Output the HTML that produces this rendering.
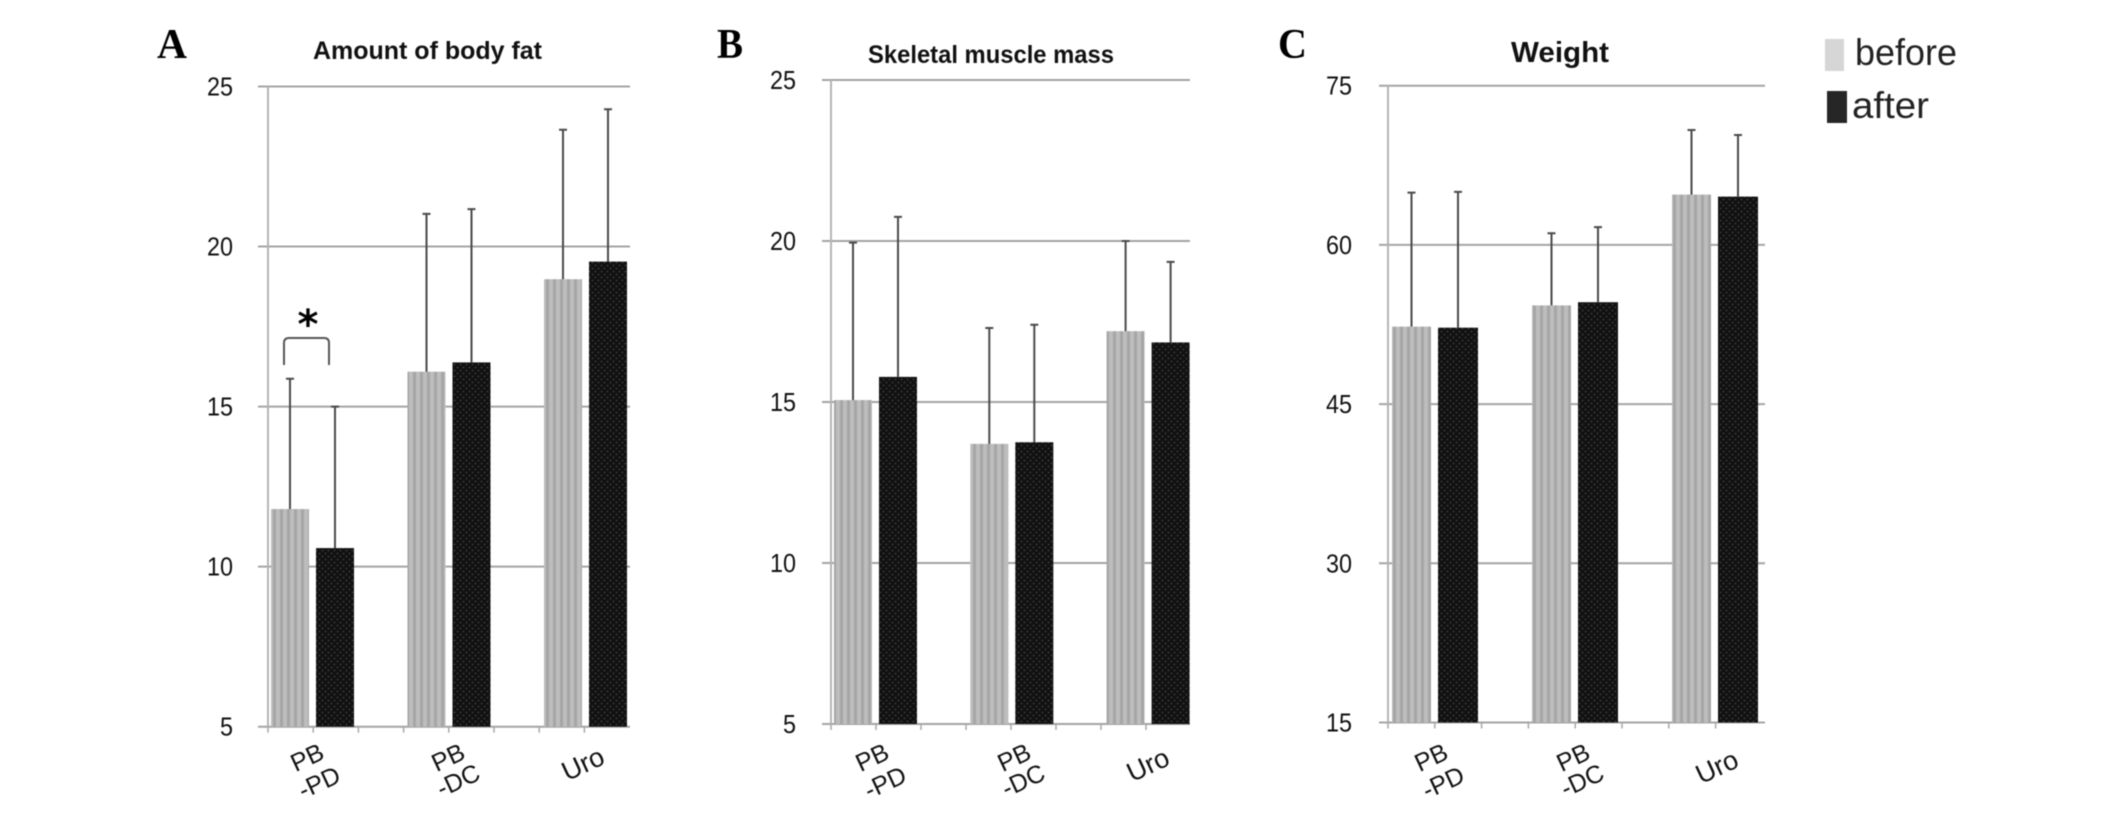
<!DOCTYPE html>
<html lang="en">
<head>
<meta charset="utf-8">
<title>Body composition before and after</title>
<style>
html,body{margin:0;padding:0;background:#fff;width:2126px;height:813px;overflow:hidden}
svg{display:block;filter:blur(0.55px)}
text{font-family:"Liberation Sans",sans-serif;fill:#111}
</style>
</head>
<body>
<svg id="figure" xmlns="http://www.w3.org/2000/svg" width="2126" height="813" viewBox="0 0 2126 813">
  <defs>
    <pattern id="stripes" patternUnits="userSpaceOnUse" width="7" height="7">
      <rect width="7" height="7" fill="#bdbdbd"/>
      <rect x="0" width="3" height="7" fill="#a6a6a6"/>
    </pattern>
    <pattern id="dots" patternUnits="userSpaceOnUse" width="6" height="6">
      <rect width="6" height="6" fill="#111"/>
      <circle cx="1.5" cy="1.5" r="0.9" fill="#404040"/>
      <circle cx="4.5" cy="4.5" r="0.9" fill="#404040"/>
    </pattern>
  </defs>
  <g id="panels"></g>

  <text x="157" y="58" textLength="30" lengthAdjust="spacingAndGlyphs" style="font-family:'Liberation Serif',serif;font-weight:bold;font-size:42px;fill:#000">A</text>
  <text x="717" y="58" textLength="26" lengthAdjust="spacingAndGlyphs" style="font-family:'Liberation Serif',serif;font-weight:bold;font-size:42px;fill:#000">B</text>
  <text x="1278" y="58" textLength="29" lengthAdjust="spacingAndGlyphs" style="font-family:'Liberation Serif',serif;font-weight:bold;font-size:42px;fill:#000">C</text>

  <text x="313" y="59" textLength="229" lengthAdjust="spacingAndGlyphs" style="font-weight:bold;font-size:25px">Amount of body fat</text>
  <text x="868" y="63" textLength="246" lengthAdjust="spacingAndGlyphs" style="font-weight:bold;font-size:25px">Skeletal muscle mass</text>
  <text x="1511" y="62" textLength="98" lengthAdjust="spacingAndGlyphs" style="font-weight:bold;font-size:29px">Weight</text>

  <g>
    <path d="M284 365 L284 343 Q284 338 289 338 L324 338 Q329 338 329 343 L329 365" fill="none" stroke="#555" stroke-width="2"/>
    <text x="308" y="338" text-anchor="middle" style="font-family:'DejaVu Sans',sans-serif;font-weight:bold;font-size:40px;fill:#000">*</text>
  </g>

  <g>
    <g>
      <rect x="1825" y="39" width="19" height="32" fill="#d6d6d6"/>
      <text x="1855" y="65" textLength="102" lengthAdjust="spacingAndGlyphs" style="font-size:37px;fill:#222">before</text>
    </g>
    <g>
      <rect x="1827" y="91" width="20" height="32" fill="#262626"/>
      <text x="1852" y="118" textLength="77" lengthAdjust="spacingAndGlyphs" style="font-size:37px;fill:#222">after</text>
    </g>
  </g>
</svg>
<script>
// Chart data
const categories = [["PB", "-PD"], ["PB", "-DC"], ["Uro"]];

const ticksFat = [5, 10, 15, 20, 25];
const fatBefore = [11.8, 16.09, 18.98];
const fatAfter = [10.58, 16.38, 19.53];
const fatBeforeErrorTop = [15.87, 21.02, 23.65];
const fatAfterErrorTop = [15.0, 21.17, 24.29];

const ticksMuscle = [5, 10, 15, 20, 25];
const muscleBefore = [15.06, 13.7, 17.2];
const muscleAfter = [15.78, 13.75, 16.85];
const muscleBeforeErrorTop = [19.95, 17.3, 20.0];
const muscleAfterErrorTop = [20.75, 17.4, 19.35];

const ticksWeight = [15, 30, 45, 60, 75];
const weightBefore = [52.3, 54.3, 64.74];
const weightAfter = [52.2, 54.6, 64.55];
const weightBeforeErrorTop = [64.93, 61.1, 70.83];
const weightAfterErrorTop = [65.0, 61.67, 70.36];

// Layout of each panel
const panelLayouts = [
  {key: "fat", ticks: ticksFat, before: fatBefore, after: fatAfter, beforeErr: fatBeforeErrorTop, afterErr: fatAfterErrorTop,
   axisX: 268, top: 86.5, bottom: 726.7, gridL: 258, gridR: 630, minor: 45.2, step: 136.5, bOff: 3, aOff: 48, bW: 38, aW: 38, labelRight: 233,
   labelSpots: [[[307, 757], [319, 782]], [[448, 757], [458, 780]], [[583, 764]]]},
  {key: "muscle", ticks: ticksMuscle, before: muscleBefore, after: muscleAfter, beforeErr: muscleBeforeErrorTop, afterErr: muscleAfterErrorTop,
   axisX: 831, top: 80, bottom: 724, gridL: 822, gridR: 1190, minor: 45, step: 136.3, bOff: 3, aOff: 48, bW: 38, aW: 38, labelRight: 796,
   labelSpots: [[[872, 757], [885, 782]], [[1014, 757], [1023, 780]], [[1148, 765]]]},
  {key: "weight", ticks: ticksWeight, before: weightBefore, after: weightAfter, beforeErr: weightBeforeErrorTop, afterErr: weightAfterErrorTop,
   axisX: 1388, top: 85.7, bottom: 722.5, gridL: 1379, gridR: 1765, minor: 46.8, step: 140, bOff: 4, aOff: 50, bW: 39, aW: 40, labelRight: 1352,
   labelSpots: [[[1431, 757], [1443, 782]], [[1573, 757], [1582, 780]], [[1717, 767]]]}
];

const SVG_NS = "http://www.w3.org/2000/svg";
const root = document.getElementById("panels");

function make(tag, attrs, parent, style) {
  const node = document.createElementNS(SVG_NS, tag);
  for (const k in attrs) node.setAttribute(k, attrs[k]);
  if (style) node.setAttribute("style", style);
  parent.appendChild(node);
  return node;
}

panelLayouts.forEach(function (p) {
  const yMin = p.ticks[0];
  const yMax = p.ticks[p.ticks.length - 1];
  const yScale = function (v) { return p.bottom - (v - yMin) / (yMax - yMin) * (p.bottom - p.top); };
  const xBefore = function (i) { return p.axisX + p.bOff + i * p.step; };
  const xAfter = function (i) { return p.axisX + p.aOff + i * p.step; };

  const g = make("g", {}, root);
  
  

  // Gridlines and y tick labels
  p.ticks.forEach(function (t) {
    const y = yScale(t);
    const line = make("line", {x1: p.gridL, x2: p.gridR, y1: y, y2: y, stroke: "#a4a4a4", "stroke-width": 2}, g);
    
    
    const s = String(t);
    const label = make("text", {x: p.labelRight, y: y + 9, "text-anchor": "end", textLength: s.length * 13, lengthAdjust: "spacingAndGlyphs"}, g, "font-size:26px");
    label.textContent = s;
    
    
  });

  // Y axis line
  const axis = make("line", {x1: p.axisX, x2: p.axisX, y1: p.top, y2: p.bottom, stroke: "#b4b4b4", "stroke-width": 2}, g);
  
  

  // X axis minor ticks
  for (let k = 0; k <= 7; k++) {
    const x = p.axisX + k * p.minor;
    const tick = make("line", {x1: x, x2: x, y1: p.bottom, y2: p.bottom + 6, stroke: "#a8a8a8", "stroke-width": 1.5}, g);
    
    
  }

  // Bars and error bars
  categories.forEach(function (cat, i) {
    const bx = xBefore(i);
    const ax = xAfter(i);
    const bTop = yScale(p.before[i]);
    const aTop = yScale(p.after[i]);

    const barB = make("rect", {x: bx, y: bTop, width: p.bW, height: p.bottom - bTop, fill: "url(#stripes)"}, g);
    
    

    const barA = make("rect", {x: ax, y: aTop, width: p.aW, height: p.bottom - aTop, fill: "url(#dots)"}, g);
    
    

    const bc = bx + p.bW / 2;
    const ac = ax + p.aW / 2;
    const bErr = yScale(p.beforeErr[i]);
    const aErr = yScale(p.afterErr[i]);

    const errB = make("path", {d: "M" + bc + " " + bTop + " V" + bErr + " M" + (bc - 4) + " " + bErr + " H" + (bc + 4), stroke: "#4a4a4a", "stroke-width": 2, fill: "none"}, g);
    
    

    const errA = make("path", {d: "M" + ac + " " + aTop + " V" + aErr + " M" + (ac - 4) + " " + aErr + " H" + (ac + 4), stroke: "#4a4a4a", "stroke-width": 2, fill: "none"}, g);
    
    

    // Category labels
    cat.forEach(function (word, w) {
      const spot = p.labelSpots[i][w];
      const size = word === "Uro" ? 27 : 25;
      const t = make("text", {x: spot[0], y: spot[1] + 9, "text-anchor": "middle", transform: "rotate(-25 " + spot[0] + " " + spot[1] + ")"}, g, "font-size:" + size + "px");
      t.textContent = word;
      
      
    });
  });
});
</script>
</body>
</html>
